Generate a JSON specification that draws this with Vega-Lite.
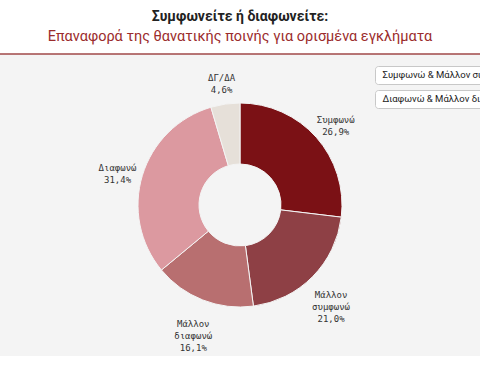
{
  "$schema": "https://vega.github.io/schema/vega-lite/v6.json",
  "width": 480,
  "height": 302,
  "autosize": {"type": "none"},
  "padding": {"top": 54, "left": 0, "right": 0, "bottom": 28},
  "background": "white",
  "view": {"fill": "#f4f4f4", "stroke": null},
  "title": {
    "text": "Συμφωνείτε ή διαφωνείτε:",
    "subtitle": "Επαναφορά της θανατικής ποινής για ορισμένα εγκλήματα",
    "anchor": "middle",
    "frame": "group",
    "font": "Roboto",
    "fontSize": 14,
    "fontWeight": "bold",
    "color": "#222222",
    "subtitleFont": "Roboto",
    "subtitleFontSize": 14.5,
    "subtitleColor": "#9b2c2c",
    "subtitlePadding": 6,
    "offset": 10
  },
  "data": {
    "values": [
      {"cat": "Συμφωνώ", "value": 26.9, "label": "Συμφωνώ\n26,9%", "o": 1, "g1": "Συμφωνώ & Μάλλον συμφωνώ", "g2": "Διαφωνώ & Μάλλον διαφωνώ"},
      {"cat": "Μάλλον συμφωνώ", "value": 21.0, "label": "Μάλλον\nσυμφωνώ\n21,0%", "o": 2, "g1": "Συμφωνώ & Μάλλον συμφωνώ", "g2": "Διαφωνώ & Μάλλον διαφωνώ"},
      {"cat": "Μάλλον διαφωνώ", "value": 16.1, "label": "Μάλλον\nδιαφωνώ\n16,1%", "o": 3, "g1": "Συμφωνώ & Μάλλον συμφωνώ", "g2": "Διαφωνώ & Μάλλον διαφωνώ"},
      {"cat": "Διαφωνώ", "value": 31.4, "label": "Διαφωνώ\n31,4%", "o": 4, "g1": "Συμφωνώ & Μάλλον συμφωνώ", "g2": "Διαφωνώ & Μάλλον διαφωνώ"},
      {"cat": "ΔΓ/ΔΑ", "value": 4.6, "label": "ΔΓ/ΔΑ\n4,6%", "o": 5, "g1": "Συμφωνώ & Μάλλον συμφωνώ", "g2": "Διαφωνώ & Μάλλον διαφωνώ"}
    ]
  },
  "layer": [
    {
      "mark": {"type": "arc", "outerRadius": 102, "innerRadius": 41, "strokeWidth": 1},
      "encoding": {
        "theta": {"field": "value", "type": "quantitative", "stack": true},
        "order": {"field": "o", "type": "quantitative"},
        "color": {
          "field": "cat",
          "type": "nominal",
          "scale": {
            "domain": ["Συμφωνώ", "Μάλλον συμφωνώ", "Μάλλον διαφωνώ", "Διαφωνώ", "ΔΓ/ΔΑ"],
            "range": ["#7b1115", "#8e4045", "#b86f70", "#dc99a0", "#e6e0d9"]
          },
          "legend": null
        },
        "opacity": {
          "field": "g1",
          "type": "nominal",
          "scale": {"range": [1, 1]},
          "legend": {"title": null, "orient": "none", "legendX": 375, "legendY": 12}
        },
        "stroke": {
          "field": "g2",
          "type": "nominal",
          "scale": {"range": ["#f4f4f4"]},
          "legend": {"title": null, "orient": "none", "legendX": 375, "legendY": 36}
        }
      }
    },
    {
      "mark": {"type": "text", "radius": 128, "font": "DejaVu Sans Mono", "fontSize": 9, "lineHeight": 12, "lineBreak": "\n", "color": "#333333", "align": "center", "baseline": "middle"},
      "encoding": {
        "theta": {"field": "value", "type": "quantitative", "stack": true},
        "order": {"field": "o", "type": "quantitative"},
        "text": {"field": "label", "type": "nominal"}
      }
    },
    {
      "data": {"values": [{}]},
      "mark": {"type": "rule", "color": "#a04848", "strokeWidth": 1.5},
      "encoding": {
        "y": {"datum": 1, "type": "quantitative", "scale": {"domain": [0, 1]}, "axis": null}
      }
    }
  ],
  "config": {
    "legend": {
      "fillColor": "#ffffff",
      "strokeColor": "#c8c8c8",
      "cornerRadius": 3,
      "padding": 4,
      "symbolSize": 1,
      "symbolStrokeWidth": 0,
      "symbolOpacity": 0,
      "symbolFillColor": "transparent",
      "labelOffset": -6,
      "labelFont": "Roboto",
      "labelFontSize": 9.5,
      "labelColor": "#222222",
      "labelLimit": 400
    }
  }
}
